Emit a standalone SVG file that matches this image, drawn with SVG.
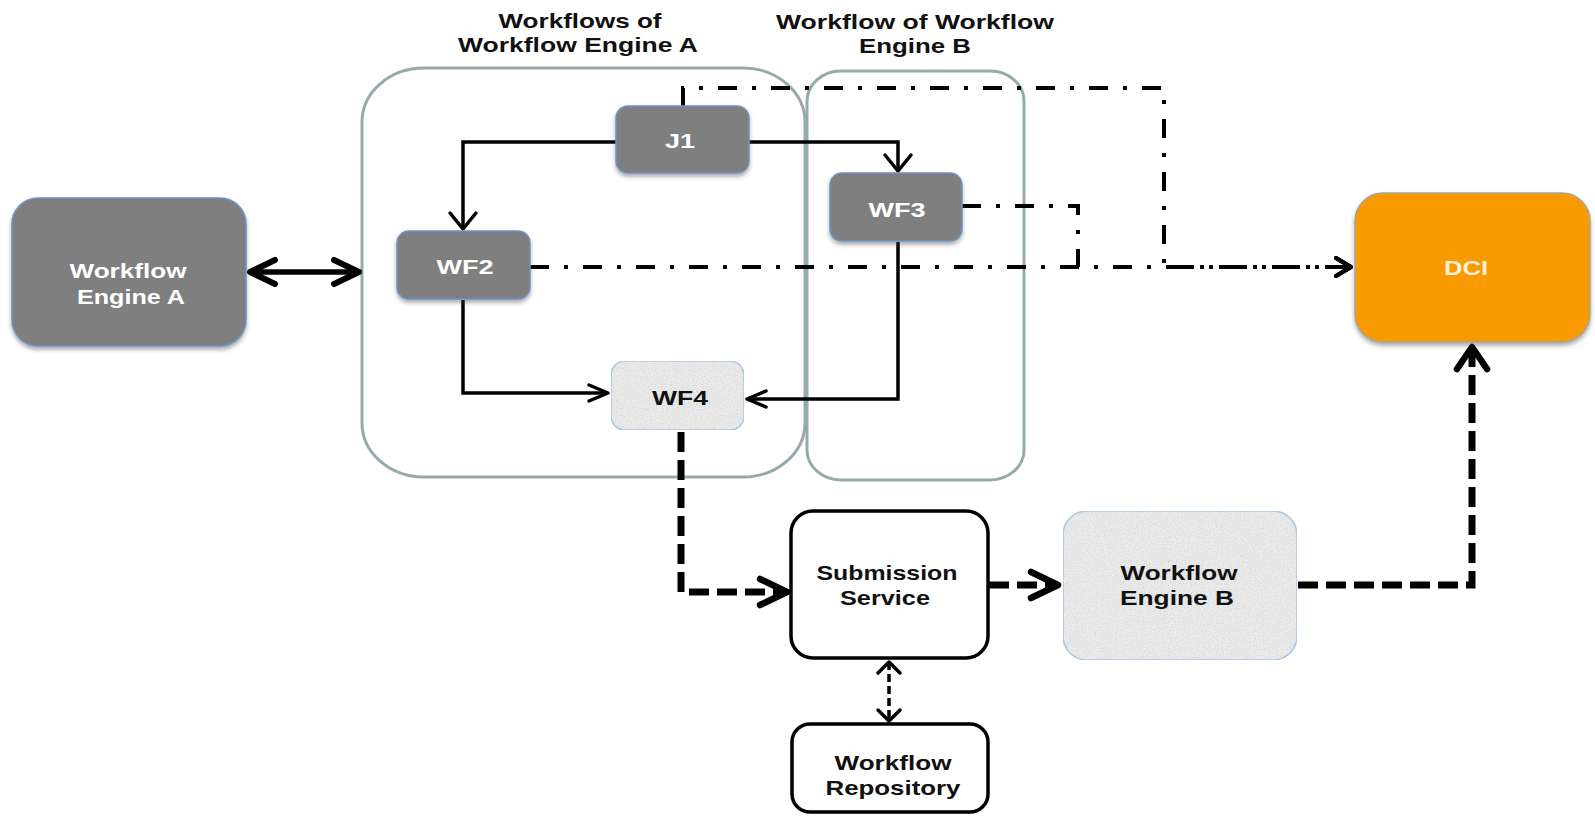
<svg xmlns="http://www.w3.org/2000/svg" width="1595" height="816" viewBox="0 0 1595 816">
<style>
.t{font-family:"Liberation Sans",Arial,sans-serif;font-weight:bold;font-size:21px;text-anchor:middle}
.w{fill:#ffffff}
.k{fill:#111111}
.cont{fill:none;stroke:#95abab;stroke-width:3}
.grey{fill:#7f7f7f;stroke:#6f93c4;stroke-width:1.5}
.tex{fill:#ebebeb;stroke:#a6c6e6;stroke-width:1.5}
.plain{fill:#ffffff;stroke:#000000;stroke-width:3.5}
.solid{fill:none;stroke:#000;stroke-width:3.5}
.dd{fill:none;stroke:#000;stroke-width:4;stroke-dasharray:19 15 4 15}
.thick{fill:none;stroke:#000;stroke-width:7;stroke-dasharray:20 8}
.thin{fill:none;stroke:#000;stroke-width:3.5;stroke-dasharray:8 4}
.bi{fill:none;stroke:#000;stroke-width:5.5}
</style>
<defs>
<filter id="sh" x="-10%" y="-10%" width="120%" height="130%">
<feDropShadow dx="0" dy="3" stdDeviation="2" flood-color="#444" flood-opacity="0.45"/>
</filter>
<filter id="grain" x="0" y="0" width="100%" height="100%">
<feTurbulence type="fractalNoise" baseFrequency="0.85" numOctaves="2" seed="4" result="n"/>
<feColorMatrix in="n" type="matrix" values="0 0 0 0 0.6  0 0 0 0 0.6  0 0 0 0 0.6  0 0 0 1.6 -0.66" result="g"/>
<feComposite in="g" in2="SourceGraphic" operator="in" result="gc"/>
<feMerge><feMergeNode in="SourceGraphic"/><feMergeNode in="gc"/></feMerge>
</filter>
<marker id="aH" markerUnits="userSpaceOnUse" viewBox="-24 -12 28 24" refX="0" refY="0" markerWidth="28" markerHeight="24" orient="auto" overflow="visible">
<path d="M-19,-8 L0,0 L-19,8" fill="none" stroke="#000" stroke-width="3.5" stroke-linecap="round" stroke-linejoin="round"/>
</marker>
<marker id="aV" markerUnits="userSpaceOnUse" viewBox="-20 -16 24 32" refX="0" refY="0" markerWidth="24" markerHeight="32" orient="auto" overflow="visible">
<path d="M-16,-13 L0,0 L-16,13" fill="none" stroke="#000" stroke-width="3.5" stroke-linecap="round" stroke-linejoin="round"/>
</marker>
<marker id="aD" markerUnits="userSpaceOnUse" viewBox="-20 -12 24 24" refX="0" refY="0" markerWidth="24" markerHeight="24" orient="auto" overflow="visible">
<path d="M-15,-9 L0,0 L-15,9" fill="none" stroke="#000" stroke-width="4" stroke-linecap="round" stroke-linejoin="round"/>
</marker>
<marker id="aB" markerUnits="userSpaceOnUse" viewBox="-30 -15 34 30" refX="0" refY="0" markerWidth="34" markerHeight="30" orient="auto-start-reverse" overflow="visible">
<path d="M-25,-12 L0,0 L-25,12" fill="none" stroke="#000" stroke-width="6" stroke-linecap="round" stroke-linejoin="round"/>
</marker>
<marker id="aT" markerUnits="userSpaceOnUse" viewBox="-32 -16 36 32" refX="0" refY="0" markerWidth="36" markerHeight="32" orient="auto" overflow="visible">
<path d="M-27,-13 L0,0 L-27,13" fill="none" stroke="#000" stroke-width="6.5" stroke-linecap="round" stroke-linejoin="round"/>
</marker>
<marker id="aTV" markerUnits="userSpaceOnUse" viewBox="-28 -18 32 36" refX="0" refY="0" markerWidth="32" markerHeight="36" orient="auto" overflow="visible">
<path d="M-22,-15 L0,0 L-22,15" fill="none" stroke="#000" stroke-width="6.5" stroke-linecap="round" stroke-linejoin="round"/>
</marker>
<marker id="aS" markerUnits="userSpaceOnUse" viewBox="-14 -14 18 28" refX="0" refY="0" markerWidth="18" markerHeight="28" orient="auto-start-reverse" overflow="visible">
<path d="M-11,-11 L0,0 L-11,11" fill="none" stroke="#000" stroke-width="3.5" stroke-linecap="round" stroke-linejoin="round"/>
</marker>
</defs>
<rect x="0" y="0" width="1595" height="816" fill="#ffffff"/>

<g id="titles">
<text class="t k" x="580" y="28" textLength="163" lengthAdjust="spacingAndGlyphs">Workflows of</text>
<text class="t k" x="578" y="52" textLength="240" lengthAdjust="spacingAndGlyphs">Workflow Engine A</text>
<text class="t k" x="915" y="29" textLength="278" lengthAdjust="spacingAndGlyphs">Workflow of Workflow</text>
<text class="t k" x="915" y="53" textLength="112" lengthAdjust="spacingAndGlyphs">Engine B</text>
</g>

<g id="containerA"><rect class="cont" x="362" y="68" width="443" height="409" rx="62" ry="54"/></g>
<g id="containerB"><rect class="cont" x="807" y="71" width="217" height="409" rx="34" ry="30"/></g>

<g id="connectors">
<path class="bi" d="M250,272 H359" marker-start="url(#aB)" marker-end="url(#aB)"/>
<path class="solid" d="M616,142 H463 V229" marker-end="url(#aV)"/>
<path class="solid" d="M749,142 H898 V171" marker-end="url(#aV)"/>
<path class="solid" d="M463,300 V393 H608" marker-end="url(#aH)"/>
<path class="solid" d="M898,242 V399 H747" marker-end="url(#aH)"/>
<path class="dd" d="M530,267 H1351" marker-end="url(#aD)"/>
<path class="dd" d="M683,106 V88 H1164 V267 H1351" marker-end="url(#aD)"/>
<path class="dd" d="M962,206 H1078 V267 H1351" marker-end="url(#aD)"/>
<path class="thick" d="M681,432 V592 H787" marker-end="url(#aT)"/>
<path class="thick" d="M989,585 H1058" marker-end="url(#aT)"/>
<path class="thick" d="M1298,585 H1472 V347" marker-end="url(#aTV)"/>
<path class="thin" d="M889,662 V721" marker-start="url(#aS)" marker-end="url(#aS)"/>
</g>

<g id="engineA">
<rect class="grey" x="12" y="198" width="234" height="148" rx="26" filter="url(#sh)"/>
<text class="t w" x="128" y="278" textLength="117" lengthAdjust="spacingAndGlyphs">Workflow</text>
<text class="t w" x="131" y="304" textLength="108" lengthAdjust="spacingAndGlyphs">Engine A</text>
</g>
<g id="J1">
<rect class="grey" x="616" y="106" width="133" height="67" rx="12" filter="url(#sh)"/>
<text class="t w" x="680" y="148" textLength="30" lengthAdjust="spacingAndGlyphs">J1</text>
</g>
<g id="WF3">
<rect class="grey" x="830" y="173" width="132" height="68" rx="12" filter="url(#sh)"/>
<text class="t w" x="897" y="217" textLength="57" lengthAdjust="spacingAndGlyphs">WF3</text>
</g>
<g id="WF2">
<rect class="grey" x="397" y="231" width="133" height="68" rx="12" filter="url(#sh)"/>
<text class="t w" x="465" y="274" textLength="57" lengthAdjust="spacingAndGlyphs">WF2</text>
</g>
<g id="WF4">
<rect class="tex" x="611" y="361" width="133" height="69" rx="14" filter="url(#grain)"/>
<text class="t k" x="680" y="405" textLength="56" lengthAdjust="spacingAndGlyphs">WF4</text>
</g>
<g id="DCI">
<rect x="1355" y="193" width="235" height="149" rx="28" fill="#f89a06" stroke="#a8a49c" stroke-width="1.5" filter="url(#sh)"/>
<text class="t" fill="#fdf0d6" x="1466" y="275" textLength="44" lengthAdjust="spacingAndGlyphs">DCI</text>
</g>
<g id="submission">
<rect class="plain" x="791" y="511" width="197" height="147" rx="22"/>
<text class="t k" x="887" y="580" textLength="141" lengthAdjust="spacingAndGlyphs">Submission</text>
<text class="t k" x="885" y="605" textLength="90" lengthAdjust="spacingAndGlyphs">Service</text>
</g>
<g id="engineB">
<rect class="tex" x="1063" y="511" width="234" height="149" rx="24" filter="url(#grain)"/>
<text class="t k" x="1179" y="580" textLength="117" lengthAdjust="spacingAndGlyphs">Workflow</text>
<text class="t k" x="1177" y="605" textLength="114" lengthAdjust="spacingAndGlyphs">Engine B</text>
</g>
<g id="repository">
<rect class="plain" x="792" y="724" width="196" height="88" rx="18"/>
<text class="t k" x="893" y="770" textLength="117" lengthAdjust="spacingAndGlyphs">Workflow</text>
<text class="t k" x="893" y="795" textLength="135" lengthAdjust="spacingAndGlyphs">Repository</text>
</g>
</svg>
